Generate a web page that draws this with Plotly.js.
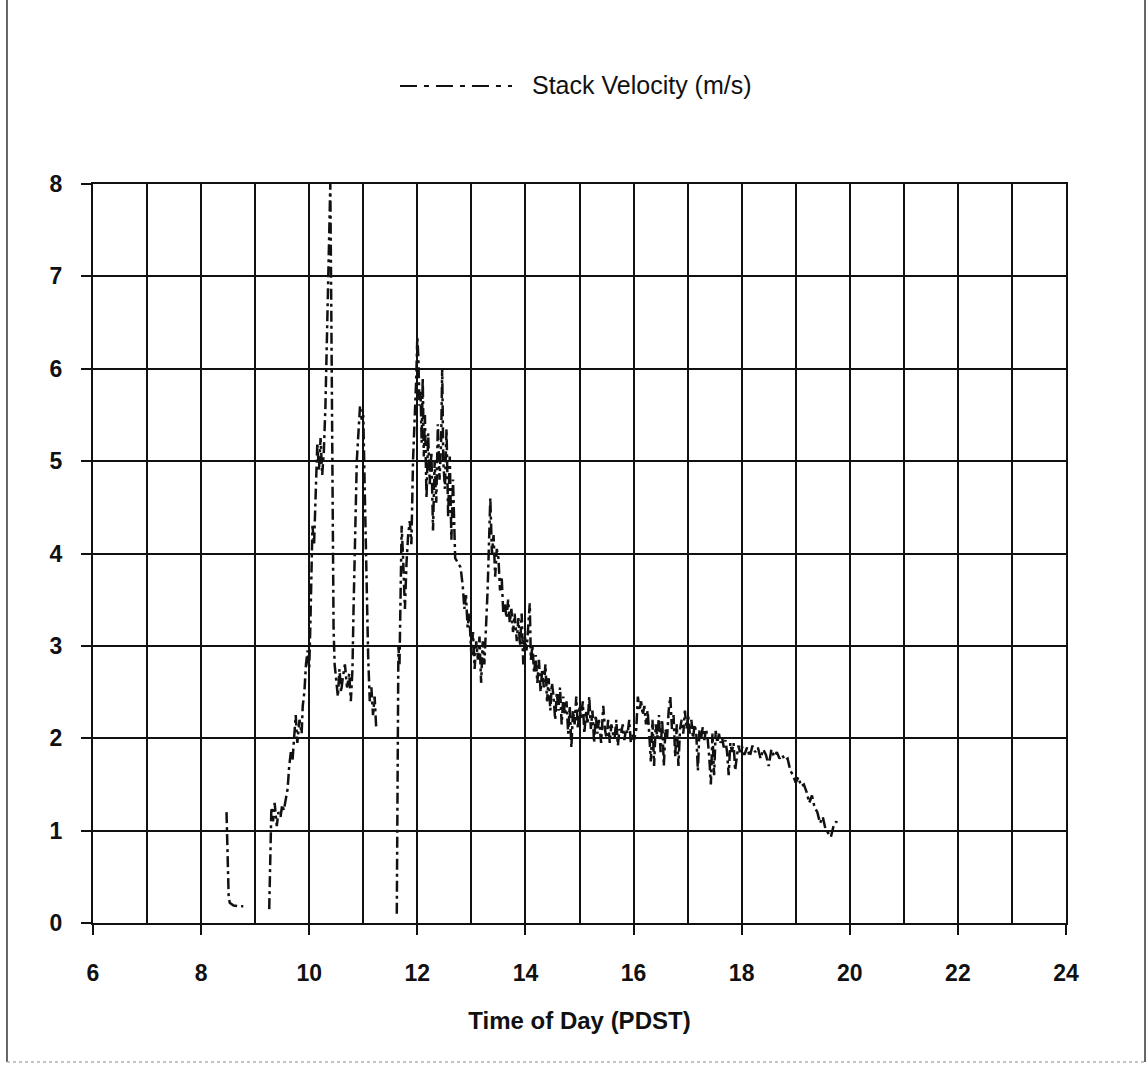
<!DOCTYPE html>
<html>
<head>
<meta charset="utf-8">
<script src="https://cdn.plot.ly/plotly-3.0.1.min.js"></script>
<style>
  html, body { margin: 0; padding: 0; background: #ffffff; }
  #chart { width: 1147px; height: 1085px; }
</style>
</head>
<body>
<div id="chart"></div>
<script>
// Stack exit velocity over the day, in three recorded stretches (nulls break the line)
const timeOfDay = [
  8.47, 8.48, 8.49, 8.50, 8.51, 8.53, 8.60, 8.70, 8.78,
  8.90,
  9.26, 9.27, 9.28, 9.30, 9.33, 9.36, 9.40, 9.43, 9.47, 9.50, 9.53, 9.56, 9.60, 9.63, 9.66, 9.69,
  9.72, 9.75, 9.78, 9.82, 9.86, 9.88, 9.91, 9.94, 9.97, 10.00, 10.02, 10.04, 10.06, 10.09, 10.12,
  10.15, 10.18, 10.21, 10.24, 10.27, 10.30, 10.33, 10.36, 10.39, 10.41, 10.43, 10.44, 10.45, 10.47,
  10.50, 10.53, 10.56, 10.59, 10.62, 10.66, 10.70, 10.74, 10.77, 10.80, 10.82, 10.85, 10.88, 10.91,
  10.94, 10.97, 11.00, 11.03, 11.06, 11.09, 11.12, 11.15, 11.18, 11.21, 11.24,
  11.40,
  11.62, 11.63, 11.64, 11.65, 11.67, 11.69, 11.71, 11.74, 11.77, 11.80, 11.83, 11.86, 11.89, 11.92,
  11.95, 11.98, 12.00, 12.02, 12.04, 12.06, 12.08, 12.10, 12.12, 12.14, 12.17, 12.20, 12.23, 12.26,
  12.29, 12.32, 12.35, 12.38, 12.41, 12.44, 12.46, 12.48, 12.51, 12.54, 12.57, 12.60, 12.63, 12.66,
  12.70, 12.75, 12.80, 12.84, 12.87, 12.90, 12.93, 12.96, 13.00, 13.03, 13.06, 13.09, 13.12, 13.15,
  13.18, 13.21, 13.24, 13.27, 13.30, 13.33, 13.35, 13.38, 13.41, 13.44, 13.47, 13.50, 13.53, 13.56,
  13.59, 13.62, 13.65, 13.68, 13.71, 13.74, 13.77, 13.80, 13.84, 13.87, 13.90, 13.93, 13.96, 13.99,
  14.02, 14.05, 14.08, 14.10, 14.13, 14.16, 14.19, 14.22, 14.25, 14.28, 14.31, 14.34, 14.37, 14.40,
  14.43, 14.46, 14.49, 14.52, 14.55, 14.58, 14.61, 14.64, 14.67, 14.70, 14.73, 14.76, 14.79, 14.82,
  14.85, 14.88, 14.91, 14.94, 14.97, 15.00, 15.03, 15.06, 15.09, 15.12, 15.15, 15.18, 15.21, 15.24,
  15.27, 15.30, 15.33, 15.36, 15.40, 15.44, 15.47, 15.50, 15.53, 15.56, 15.59, 15.62, 15.65, 15.68,
  15.71, 15.74, 15.77, 15.80, 15.83, 15.86, 15.89, 15.92, 15.95, 15.98, 16.01, 16.05, 16.08, 16.11,
  16.14, 16.17, 16.20, 16.23, 16.26, 16.29, 16.32, 16.35, 16.38, 16.41, 16.44, 16.47, 16.50, 16.53,
  16.56, 16.59, 16.62, 16.65, 16.68, 16.71, 16.74, 16.77, 16.80, 16.83, 16.86, 16.89, 16.92, 16.95,
  16.98, 17.01, 17.04, 17.07, 17.10, 17.13, 17.16, 17.19, 17.22, 17.25, 17.28, 17.31, 17.34, 17.37,
  17.40, 17.43, 17.46, 17.49, 17.52, 17.55, 17.58, 17.61, 17.64, 17.67, 17.70, 17.73, 17.76, 17.79,
  17.82, 17.85, 17.88, 17.91, 17.94, 17.97, 18.00, 18.05, 18.10, 18.15, 18.20, 18.25, 18.30, 18.35,
  18.40, 18.45, 18.50, 18.55, 18.60, 18.65, 18.70, 18.75, 18.80, 18.85, 18.90, 18.95, 19.00, 19.05,
  19.10, 19.15, 19.20, 19.25, 19.30, 19.35, 19.40, 19.45, 19.50, 19.55, 19.60, 19.65, 19.70, 19.75,
  19.78
];

const stackVelocity = [
  1.20, 0.95, 0.70, 0.45, 0.28, 0.22, 0.19, 0.18, 0.18,
  null,
  0.15, 0.55, 0.95, 1.25, 1.10, 1.30, 1.05, 1.20, 1.15, 1.28, 1.22, 1.33, 1.45, 1.70, 1.85, 1.75,
  2.05, 2.25, 1.95, 2.20, 2.05, 2.35, 2.50, 2.80, 2.95, 2.75, 3.20, 3.70, 4.30, 4.10, 4.80,
  5.20, 4.90, 5.25, 4.85, 5.10, 5.60, 6.30, 7.00, 8.00, 6.50, 5.00, 4.00, 3.20, 2.80,
  2.60, 2.45, 2.75, 2.50, 2.65, 2.80, 2.55, 2.70, 2.40, 2.75, 3.40, 4.20, 5.00, 5.30,
  5.60, 5.45, 5.50, 4.60, 3.70, 2.90, 2.40, 2.55, 2.25, 2.45, 2.10,
  null,
  0.10, 1.00, 2.00, 3.00, 2.80, 3.50, 4.30, 3.90, 3.40, 3.90, 4.20, 4.35, 4.10, 5.00,
  5.40, 5.90, 6.35, 6.10, 5.60, 5.75, 5.20, 5.90, 5.05, 5.50, 4.60, 5.30, 4.75, 5.10,
  4.25, 5.00, 4.55, 5.40, 4.80, 5.20, 6.00, 5.00, 4.70, 5.35, 4.40, 5.05, 4.15, 4.80,
  3.95, 3.90, 3.85, 3.65, 3.40, 3.55, 3.20, 3.35, 2.90, 3.15, 2.75, 3.05, 2.85, 3.10,
  2.60, 3.05, 2.80, 3.20, 3.60, 4.20, 4.60, 4.00, 4.20, 3.75, 4.05, 3.95, 3.60, 3.75,
  3.35, 3.45, 3.30, 3.50, 3.25, 3.40, 3.15, 3.35, 3.05, 3.30, 3.00, 3.35, 2.80, 3.10,
  2.95, 3.20, 3.46, 2.85, 3.00, 2.70, 2.90, 2.60, 2.85, 2.50, 2.75, 2.55, 2.80, 2.40,
  2.65, 2.30, 2.60, 2.45, 2.20, 2.50, 2.30, 2.55, 2.15, 2.45, 2.25, 2.40, 2.05, 2.35,
  1.90, 2.30, 2.15, 2.45, 2.10, 2.35, 2.20, 2.40, 2.05, 2.30, 2.15, 2.45, 2.10, 2.30,
  1.95, 2.25, 2.05, 2.20, 1.95, 2.35, 2.10, 2.00, 2.20, 1.95, 2.15, 2.05, 2.00, 2.20,
  1.92, 2.10, 2.05, 2.15, 1.98, 2.10, 2.05, 2.20, 1.95, 2.05, 1.98, 2.10, 2.45, 2.30,
  2.40, 2.25, 2.35, 2.15, 2.30, 2.05, 1.75, 2.20, 1.70, 2.15, 2.00, 2.25, 1.85, 2.20,
  1.70, 2.10, 2.00, 2.30, 2.45, 2.10, 2.25, 1.80, 2.15, 1.70, 2.10, 2.20, 2.05, 2.30,
  2.10, 2.25, 2.05, 2.20, 2.00, 2.15, 2.05, 1.65, 2.10, 2.00, 2.12, 1.98, 2.10, 2.00,
  1.80, 1.50, 2.05, 1.60, 2.08, 1.95, 2.05, 1.95, 2.00, 1.90, 1.98, 1.85, 1.60, 1.95,
  1.85, 1.95, 1.65, 1.80, 1.92, 1.85, 1.92, 1.82, 1.90, 1.80, 1.92, 1.85, 1.90, 1.78,
  1.88, 1.82, 1.70, 1.88, 1.80, 1.85, 1.78, 1.82, 1.76, 1.78, 1.65, 1.60, 1.52, 1.58,
  1.48, 1.50, 1.42, 1.30, 1.38, 1.25, 1.20, 1.08, 1.15, 1.02, 0.98, 0.93, 1.05, 1.10,
  1.05
];

const seriesName = 'Stack Velocity (m/s)';
const xAxisTitle = 'Time of Day (PDST)';

const fontFamily = '"Liberation Sans", Arial, Helvetica, sans-serif';
const ink = '#111111';

const trace = {
  type: 'scatter',
  mode: 'lines',
  x: timeOfDay,
  y: stackVelocity,
  name: seriesName,
  connectgaps: false,
  showlegend: false,
  line: { color: ink, width: 2.5, dash: '11px,4px,3px,4px' },
  hoverinfo: 'x+y'
};

const layout = {
  width: 1147,
  height: 1085,
  margin: { l: 93, r: 81, t: 184, b: 162, pad: 0 },
  paper_bgcolor: '#ffffff',
  plot_bgcolor: '#ffffff',
  showlegend: false,
  font: { family: fontFamily, color: ink },
  xaxis: {
    range: [6, 24],
    tick0: 6,
    dtick: 2,
    ticks: 'outside',
    ticklen: 10,
    tickwidth: 2,
    tickcolor: ink,
    ticklabelstandoff: 18,
    tickfont: { family: fontFamily, size: 23, weight: 'bold', color: ink },
    showgrid: true,
    gridcolor: ink,
    gridwidth: 2,
    minor: { dtick: 1, showgrid: true, gridcolor: ink, gridwidth: 2, ticks: '' },
    showline: true,
    mirror: true,
    linecolor: ink,
    linewidth: 2,
    zeroline: false,
    title: {
      text: xAxisTitle,
      standoff: 28,
      font: { family: fontFamily, size: 24, weight: 'bold', color: ink }
    }
  },
  yaxis: {
    range: [0, 8],
    tick0: 0,
    dtick: 1,
    ticks: 'outside',
    ticklen: 10,
    tickwidth: 2,
    tickcolor: ink,
    ticklabelstandoff: 14,
    tickfont: { family: fontFamily, size: 23, weight: 'bold', color: ink },
    showgrid: true,
    gridcolor: ink,
    gridwidth: 2,
    showline: true,
    mirror: true,
    linecolor: ink,
    linewidth: 2,
    zeroline: false
  },
  shapes: [
    // legend key for the dash-dot series
    {
      type: 'line', xref: 'paper', yref: 'paper',
      x0: 0.3155, x1: 0.4306, y0: 1.1325, y1: 1.1325,
      line: { color: ink, width: 2, dash: '17px,7px,5px,7px' }
    },
    // page frame
    {
      type: 'line', xref: 'paper', yref: 'paper',
      x0: -0.0884, x1: -0.0884, y0: -0.188, y1: 1.25,
      line: { color: '#333333', width: 1.5 }
    },
    {
      type: 'line', xref: 'paper', yref: 'paper',
      x0: 1.0812, x1: 1.0812, y0: -0.188, y1: 1.25,
      line: { color: '#333333', width: 1.5 }
    },
    {
      type: 'line', xref: 'paper', yref: 'paper',
      x0: -0.0884, x1: 1.0812, y0: -0.188, y1: -0.188,
      line: { color: '#b0b0b0', width: 1.5, dash: 'dot' }
    }
  ],
  annotations: [
    {
      xref: 'paper', yref: 'paper',
      x: 0.449, y: 1.1335,
      xanchor: 'left', yanchor: 'middle',
      showarrow: false,
      text: seriesName,
      font: { family: fontFamily, size: 25, color: ink }
    }
  ]
};

Plotly.newPlot('chart', [trace], layout, { displayModeBar: false, staticPlot: true });
</script>
</body>
</html>
